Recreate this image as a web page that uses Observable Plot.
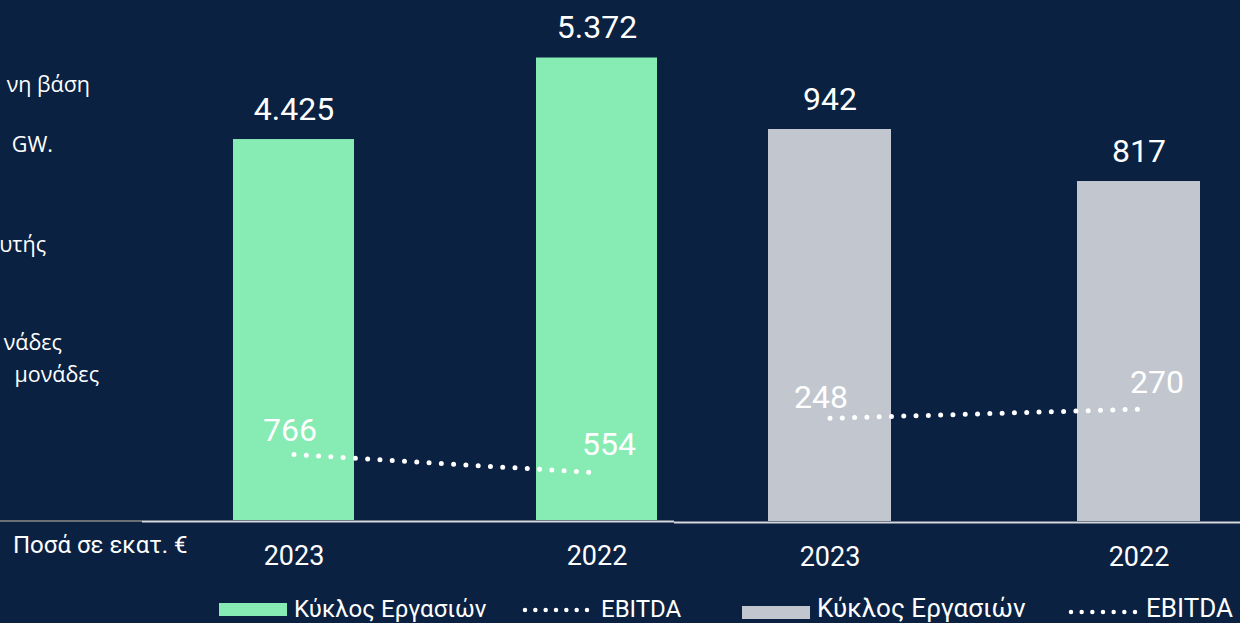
<!DOCTYPE html>
<html>
<head>
<meta charset="utf-8">
<script src="https://cdn.jsdelivr.net/npm/d3@7"></script>
<script src="https://cdn.jsdelivr.net/npm/@observablehq/plot@0.6"></script>
<style>
  html, body { margin: 0; padding: 0; background: #0b2141; }
  #page { position: relative; width: 1240px; height: 623px; overflow: hidden; background: #0b2141; }
  .abs { position: absolute; top: 0; }
  svg text { font-family: Roboto, "Noto Sans", sans-serif; }
</style>
</head>
<body>
<div id="page">
  <div id="leftChart" class="abs" style="left:0px;"></div>
  <div id="rightChart" class="abs" style="left:674px;"></div>
  <div class="abs" style="left:0px; top:520px; width:142px; height:2px; background:#6b6e73;"></div>
  <svg id="overlay" class="abs" style="left:0; top:0;" width="1240" height="623"></svg>
</div>
<script>
// ---- data ----
const years = ["2023", "2022"];
const revenueGreen = [4425, 5372];
const ebitdaGreen = [766, 554];
const revenueGrey = [942, 817];
const ebitdaGrey = [248, 270];
const legendLabels = ["Κύκλος Εργασιών", "EBITDA"];
const unitNote = "Ποσά σε εκατ. €";
const sideText = ["νη βάση", "GW.", "υτής", "νάδες", "μονάδες"];

const locale = d3.formatLocale({decimal: ",", thousands: ".", grouping: [3], currency: ["", "€"]});
const fmt = locale.format(",d");

const tableGreen = years.map((y, i) => ({year: y, rev: revenueGreen[i], ebitda: ebitdaGreen[i]}));
const tableGrey = years.map((y, i) => ({year: y, rev: revenueGrey[i], ebitda: ebitdaGrey[i]}));

const GREEN = "#87ebb4";
const GREY = "#c2c7cf";
const BASE = "#d6d8db";

function panel(data, opts) {
  return Plot.plot({
    width: opts.width,
    height: 580,
    marginTop: 0,
    marginBottom: 580 - opts.base,
    marginLeft: opts.marginLeft,
    marginRight: 0,
    style: {background: "transparent", color: "#ffffff", fontFamily: "Roboto, sans-serif", overflow: "visible"},
    x: {type: "band", domain: years, range: opts.xRange, paddingInner: opts.pad, paddingOuter: 0, align: 0.5, axis: null},
    y: {domain: [0, opts.yMax], range: [opts.base, 0], axis: null},
    marks: [
      Plot.barY(data, {x: "year", y: "rev", fill: opts.fill}),
      Plot.ruleY([0], {stroke: BASE, strokeWidth: 2, dy: 1}),
      Plot.axisX({tickSize: 0, tickPadding: 25, fontSize: 27, fill: "#ffffff", label: null}),
      Plot.lineY(data, {x: "year", y: "ebitda", stroke: "#ffffff", strokeWidth: 5,
        strokeDasharray: "0 12.3", strokeLinecap: "round"}),
      Plot.text(data, {x: "year", y: "rev", text: d => fmt(d.rev), lineAnchor: "bottom", dy: -20,
        fontSize: 32, fill: "#ffffff"}),
      Plot.text(data, {filter: (d, i) => i === 0, x: "year", y: "ebitda", text: d => fmt(d.ebitda),
        lineAnchor: "bottom", dx: opts.l0[0], dy: opts.l0[1], fontSize: 32, fill: "#ffffff"}),
      Plot.text(data, {filter: (d, i) => i === 1, x: "year", y: "ebitda", text: d => fmt(d.ebitda),
        lineAnchor: "bottom", dx: opts.l1[0], dy: opts.l1[1], fontSize: 32, fill: "#ffffff"})
    ]
  });
}

document.getElementById("leftChart").append(panel(tableGreen, {
  width: 674, base: 520, marginLeft: 142, xRange: [233, 657], pad: 0.6007, yMax: 6040,
  fill: GREEN, l0: [-4, -14], l1: [12, -18]
}));
document.getElementById("rightChart").append(panel(tableGrey, {
  width: 566, base: 521, marginLeft: 0, xRange: [93, 526], pad: 0.603, yMax: 1252,
  fill: GREY, l0: [-9, -10], l1: [18, -16]
}));

// ---- overlay texts & legends ----
const ov = d3.select("#overlay");
const sidePos = [[90, 92], [53, 152], [46, 252], [62, 350], [99, 382]];
sideText.forEach((t, i) => {
  ov.append("text").attr("x", sidePos[i][0]).attr("y", sidePos[i][1]).attr("text-anchor", "end")
    .attr("fill", "#ffffff").style("font-family", "'Open Sans', sans-serif").style("font-size", "21.5px").text(t);
});
ov.append("text").attr("x", 13).attr("y", 553).attr("fill", "#ffffff").style("font-size", "24px").text(unitNote);

function legend(o) {
  ov.append("rect").attr("x", o.sx).attr("y", o.sy).attr("width", 68).attr("height", 13).attr("fill", o.fill);
  ov.append("text").attr("x", o.tx).attr("y", o.ty).attr("fill", "#ffffff").style("font-size", o.fs + "px").text(legendLabels[0]);
  ov.append("line").attr("x1", o.dx0).attr("x2", o.dx1 + 0.5).attr("y1", o.dy).attr("y2", o.dy)
    .attr("stroke", "#ffffff").attr("stroke-width", 4.5).attr("stroke-linecap", "round")
    .attr("stroke-dasharray", "0 " + ((o.dx1 - o.dx0) / 6));
  ov.append("text").attr("x", o.ex).attr("y", o.ty).attr("fill", "#ffffff").style("font-size", o.fs + "px").text(legendLabels[1]);
}
legend({fill: GREEN, sx: 219, sy: 603, tx: 294, ty: 617, fs: 24, dx0: 525, dx1: 587, dy: 610, ex: 601});
legend({fill: GREY, sx: 742, sy: 606, tx: 817, ty: 616.5, fs: 26, dx0: 1071, dx1: 1135, dy: 612, ex: 1146});
</script>
</body>
</html>
